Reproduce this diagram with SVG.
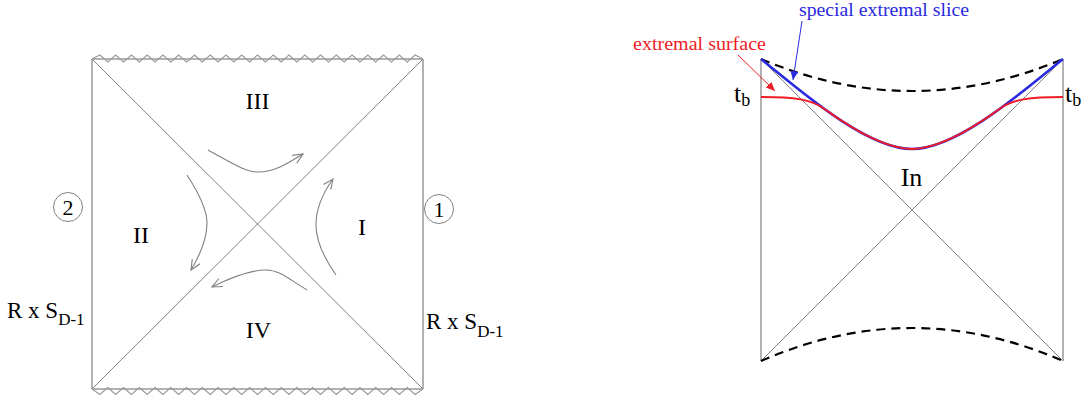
<svg xmlns="http://www.w3.org/2000/svg" width="1084" height="399" viewBox="0 0 1084 399">
<style>
.t{font-family:"Liberation Serif","Times New Roman",serif;fill:#000}
.edge{stroke:#999;stroke-width:1.5;fill:none}
.diag{stroke:#808080;stroke-width:1;fill:none}
.zz{stroke:#999;stroke-width:1.1;fill:none}
.flow{stroke:#808080;stroke-width:1.1;fill:none;marker-end:url(#open)}
.dash{stroke:#000;stroke-width:2.2;fill:none;stroke-dasharray:9 6}
.blue{fill:#2a2ae0}
.red{fill:#ee1c25}
</style>
<defs>
<marker id="open" markerUnits="userSpaceOnUse" markerWidth="14" markerHeight="12" refX="11" refY="6" orient="auto">
<path d="M1,1.5 L11,6 L1,10.5" fill="none" stroke="#808080" stroke-width="1.1"/>
</marker>
<marker id="bluehead" markerUnits="userSpaceOnUse" markerWidth="10" markerHeight="10" refX="9" refY="4" orient="auto">
<path d="M0,0 L9,4 L0,8 Z" fill="#2a2ae0"/>
</marker>
<marker id="redhead" markerUnits="userSpaceOnUse" markerWidth="10" markerHeight="10" refX="9" refY="4" orient="auto">
<path d="M0,0 L9,4 L0,8 Z" fill="#ee1c25"/>
</marker>
</defs>

<!-- Left Penrose diagram -->
<g id="left-diagram">
<line class="edge" x1="92" y1="59" x2="92" y2="389"/>
<line class="edge" x1="423" y1="59" x2="423" y2="389"/>
<line class="edge" x1="92" y1="59" x2="423" y2="59"/>
<line class="edge" x1="92" y1="389" x2="423" y2="389"/>
<line class="diag" x1="92" y1="59" x2="423" y2="389"/>
<line class="diag" x1="423" y1="59" x2="92" y2="389"/>
<polyline class="zz" points="92,59 99.9,55 107.8,62 115.6,55 123.5,62 131.4,55 139.3,62 147.2,55 155,62 162.9,55 170.8,62 178.7,55 186.6,62 194.5,55 202.3,62 210.2,55 218.1,62 226,55 233.9,62 241.7,55 249.6,62 257.5,55 265.4,62 273.3,55 281.1,62 289,55 296.9,62 304.8,55 312.7,62 320.5,55 328.4,62 336.3,55 344.2,62 352.1,55 359.9,62 367.8,55 375.7,62 383.6,55 391.5,62 399.4,55 407.2,62 415.1,55 423,59"/>
<polyline class="zz" points="92,389 99.9,394.5 107.8,387.5 115.6,394.5 123.5,387.5 131.4,394.5 139.3,387.5 147.2,394.5 155,387.5 162.9,394.5 170.8,387.5 178.7,394.5 186.6,387.5 194.5,394.5 202.3,387.5 210.2,394.5 218.1,387.5 226,394.5 233.9,387.5 241.7,394.5 249.6,387.5 257.5,394.5 265.4,387.5 273.3,394.5 281.1,387.5 289,394.5 296.9,387.5 304.8,394.5 312.7,387.5 320.5,394.5 328.4,387.5 336.3,394.5 344.2,387.5 352.1,394.5 359.9,387.5 367.8,394.5 375.7,387.5 383.6,394.5 391.5,387.5 399.4,394.5 407.2,387.5 415.1,394.5 423,389"/>
</g>

<g id="region-III"><text class="t" x="257.5" y="109" font-size="24" text-anchor="middle">III</text></g>
<g id="region-II"><text class="t" x="141" y="243" font-size="24" text-anchor="middle">II</text></g>
<g id="region-I"><text class="t" x="362" y="235" font-size="24" text-anchor="middle">I</text></g>
<g id="region-IV"><text class="t" x="258.5" y="338" font-size="24" text-anchor="middle">IV</text></g>

<g id="boundary-2">
<circle cx="68" cy="207" r="14.5" fill="none" stroke="#808080" stroke-width="1"/>
<text class="t" x="68" y="215" font-size="22" text-anchor="middle">2</text>
</g>
<g id="boundary-1">
<circle cx="439" cy="209" r="14.5" fill="none" stroke="#808080" stroke-width="1"/>
<text class="t" x="439" y="217" font-size="22" text-anchor="middle">1</text>
</g>

<g id="label-left-RxS">
<text class="t" x="7" y="318" font-size="23">R x S<tspan font-size="17" dy="7">D-1</tspan></text>
</g>
<g id="label-right-RxS">
<text class="t" x="426" y="329" font-size="23">R x S<tspan font-size="17" dy="8">D-1</tspan></text>
</g>

<g id="flows">
<path class="flow" d="M208,150 C232,163 245,172 258,172 C275,172 290,162 303,154"/>
<path class="flow" d="M336,275 C322,255 316,240 316,225 C316,206 325,190 333,179"/>
<path class="flow" d="M307,290 C290,280 280,270 266,270 C250,270 230,278 212,287"/>
<path class="flow" d="M187,175 C200,195 207,210 207,223 C207,240 200,255 191,270"/>
</g>

<!-- Right diagram -->
<g id="right-diagram">
<line class="edge" x1="761" y1="59" x2="761" y2="361"/>
<line class="edge" x1="1063" y1="59" x2="1063" y2="361"/>
<line class="diag" x1="761" y1="59" x2="1063" y2="361"/>
<line class="diag" x1="1063" y1="59" x2="761" y2="361"/>
<path class="dash" d="M761,59 Q912,123 1063,59"/>
<path class="dash" d="M761,361 Q912,295 1063,361"/>
</g>

<g id="special-extremal-slice-curve">
<path d="M761,59 C795,86 865,149 912,149 C959,149 1029,86 1063,59" fill="none" stroke="#2a2ae0" stroke-width="2.6"/>
</g>
<g id="extremal-surface-curve">
<path d="M761,97 C795,97 811.4,99.6 823.4,108.3 C853.3,129.94 886.15,149 912,149 C937.85,149 970.7,129.94 1000.6,108.3 C1012.6,99.6 1029,97 1063,97" fill="none" stroke="#ee1c25" stroke-width="2"/>
</g>

<g id="region-In"><text class="t" x="911.5" y="186" font-size="26" text-anchor="middle">In</text></g>
<g id="tb-left"><text class="t" x="734" y="102" font-size="26">t<tspan font-size="18" dy="4">b</tspan></text></g>
<g id="tb-right"><text class="t" x="1065" y="102" font-size="26">t<tspan font-size="18" dy="4">b</tspan></text></g>

<g id="label-special">
<text class="t blue" x="799" y="16" font-size="18" textLength="170" lengthAdjust="spacingAndGlyphs">special extremal slice</text>
</g>
<g id="label-extremal">
<text class="t red" x="633" y="50" font-size="18" textLength="133" lengthAdjust="spacingAndGlyphs">extremal surface</text>
</g>

<g id="connectors">
<line x1="802" y1="21" x2="793" y2="80" stroke="#2a2ae0" stroke-width="1" marker-end="url(#bluehead)"/>
<line x1="738" y1="55" x2="775" y2="91" stroke="#ee1c25" stroke-width="1" marker-end="url(#redhead)"/>
</g>
</svg>
